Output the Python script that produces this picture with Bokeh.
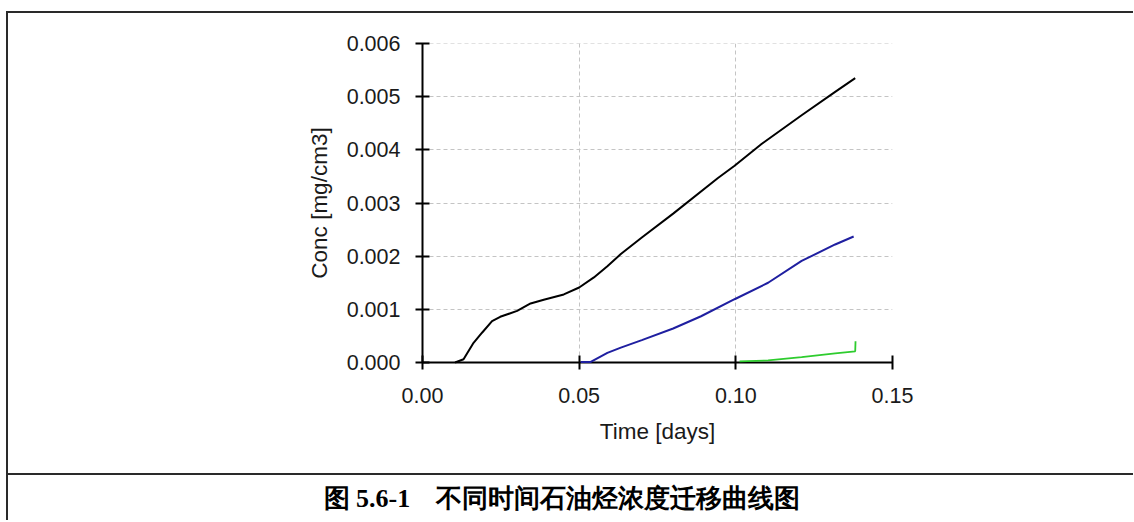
from bokeh.plotting import figure
from bokeh.layouts import column
from bokeh.models import Range1d, FixedTicker, NumeralTickFormatter, Label
from bokeh.embed import file_html
from bokeh.resources import INLINE

# ---- data ----
black_t = [0.0104, 0.0131, 0.0163, 0.019, 0.0222, 0.0248, 0.0302, 0.0345, 0.0387, 0.0451, 0.05,
           0.0547, 0.059, 0.0633, 0.07, 0.08, 0.0943, 0.0996, 0.1082, 0.121, 0.1317, 0.1381]
black_c = [0.0, 0.00006, 0.00037, 0.00056, 0.00078, 0.00086, 0.00097, 0.00111, 0.00118, 0.00128, 0.00141,
           0.0016, 0.00181, 0.00204, 0.00235, 0.0028, 0.00347, 0.0037, 0.00411, 0.00465, 0.00509, 0.00535]

blue_t = [0.0505, 0.0537, 0.059, 0.0633, 0.07, 0.08, 0.0889, 0.0996, 0.1103, 0.121, 0.1317, 0.1376]
blue_c = [0.00001, 0.00001, 0.00018, 0.00028, 0.00042, 0.00064, 0.00087, 0.00119, 0.0015, 0.00191, 0.00222, 0.00237]

green_t = [0.1012, 0.1103, 0.121, 0.1317, 0.1381, 0.1382]
green_c = [0.00002, 0.00004, 0.0001, 0.00017, 0.00021, 0.0004]

x_ticks = [0.0, 0.05, 0.10, 0.15]
y_ticks = [0.0, 0.001, 0.002, 0.003, 0.004, 0.005, 0.006]

x_title = "Time [days]"
y_title = "Conc [mg/cm3]"
caption = "图 5.6-1\u3000不同时间石油烃浓度迁移曲线图"

FONT = "Liberation Sans"
BORDER = "2px solid #2a2a2a"
TOTAL_W = 1125

p = figure(frame_width=468, frame_height=315,
           min_border_left=414, min_border_right=TOTAL_W - 414 - 468, min_border_top=30, min_border_bottom=115,
           x_range=Range1d(0, 0.15), y_range=Range1d(0, 0.0060001),
           output_backend="svg", toolbar_location=None, tools="")
p.frame_align = False
p.styles = {"border-top": BORDER, "border-left": BORDER, "border-bottom": BORDER}
p.outline_line_color = None
p.background_fill_color = "white"
p.border_fill_color = "white"

r1 = p.line(black_t, black_c, line_color="#000000", line_width=2)
r2 = p.line(blue_t, blue_c, line_color="#1f1fa0", line_width=2)
r3 = p.line(green_t, green_c, line_color="#2ecc2e", line_width=1.8)
for r in (r1, r2, r3):
    r.level = "overlay"

for ax, ticks, fmt, title in ((p.xaxis, x_ticks, "0.00", x_title), (p.yaxis, y_ticks, "0.000", y_title)):
    ax.ticker = FixedTicker(ticks=ticks)
    ax.formatter = NumeralTickFormatter(format=fmt)
    ax.axis_label = title
    ax.axis_label_text_font = FONT
    ax.axis_label_text_font_size = "22.5px"
    ax.axis_label_text_font_style = "normal"
    ax.axis_label_text_color = "#1a1a1a"
    ax.major_label_text_font = FONT
    ax.major_label_text_font_size = "21.5px"
    ax.major_label_text_color = "#1a1a1a"
    ax.axis_line_color = "#000000"
    ax.axis_line_width = 2
    ax.major_tick_line_color = "#000000"
    ax.major_tick_line_width = 2
    ax.major_tick_in = 7
    ax.major_tick_out = 7
    ax.minor_tick_line_color = None

p.yaxis.major_label_standoff = 15
p.xaxis.major_label_standoff = 18
p.yaxis.axis_label_standoff = 12
p.xaxis.axis_label_standoff = 13

p.xgrid.ticker = FixedTicker(ticks=x_ticks)
p.ygrid.ticker = FixedTicker(ticks=y_ticks)
for g in (p.xgrid, p.ygrid):
    g.grid_line_color = "#c4c4c4"
    g.grid_line_dash = "4 3"
    g.grid_line_width = 1

# ---- caption row ----
CAP_H = 45
c = figure(width=TOTAL_W, height=CAP_H, min_border=0,
           x_range=Range1d(0, TOTAL_W), y_range=Range1d(0, CAP_H),
           output_backend="svg", toolbar_location=None, tools="")
c.frame_align = False
c.styles = {"border-left": BORDER}
c.axis.visible = False
c.grid.visible = False
c.outline_line_color = None
c.add_layout(Label(x=313, y=CAP_H - 22.5, x_units="canvas", y_units="data", text=caption,
                   text_align="left", text_baseline="middle",
                   text_font="Liberation Serif", text_font_size="26px", text_font_style="bold",
                   text_color="#000000"))

layout = column(p, c, spacing=0)
layout.margin = (11, 0, 0, 6)
open("out.html", "w").write(file_html(layout, INLINE))
